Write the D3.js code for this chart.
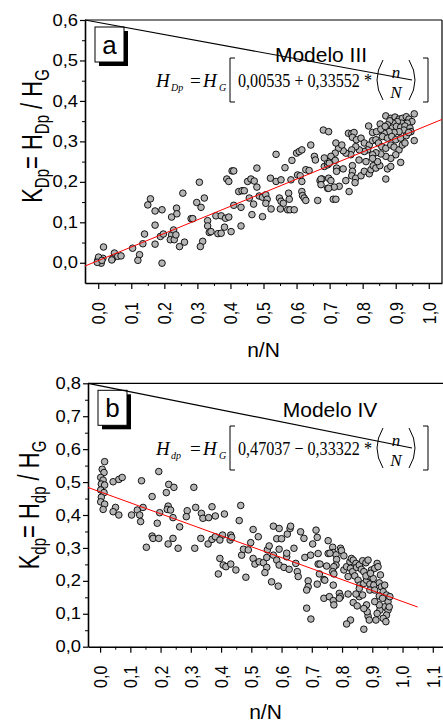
<!DOCTYPE html>
<html>
<head>
<meta charset="utf-8">
<title>Modelo III / IV</title>
<script src="https://cdnjs.cloudflare.com/ajax/libs/d3/7.8.5/d3.min.js"></script>
<style>
body { margin: 0; background: #fff; }
svg text { font-family: "Liberation Sans", Arial, sans-serif; fill: #000; }
svg .eq text { font-family: "Liberation Serif", "Times New Roman", serif; }
.dot { fill: #b4b4b4; stroke: #000; stroke-width: 0.9px; }
.fit { stroke: #ff0000; stroke-width: 1px; fill: none; }
.axis path, .axis line { stroke: #000; }
</style>
</head>
<body>
<script>
// --- panel a : Modelo III (n/N , K_Dp) ---
var pointsA = [
  [-0.001,0.007],[0.004,0.003],[0.009,-0.001],[0.014,0.011],[0.001,0.014],[-0.003,0.001],[0.011,0.006],[0.016,0.039],
  [0.044,0.011],[0.049,0.024],[0.059,0.016],[0.069,0.017],[0.041,0.007],[0.104,0.036],[0.125,0.020],[0.120,0.006],
  [0.135,0.047],[0.140,0.071],[0.172,0.046],[0.193,-0.001],[0.150,0.143],[0.158,0.158],[0.172,0.128],[0.193,0.131],
  [0.172,0.093],[0.188,0.065],[0.197,0.071],[0.222,0.113],[0.237,0.135],[0.238,0.121],[0.222,0.069],[0.228,0.081],
  [0.218,0.057],[0.230,0.057],[0.246,0.040],[0.235,0.069],[0.261,0.051],[0.256,0.172],[0.281,0.109],[0.286,0.109],
  [0.298,0.149],[0.311,0.137],[0.306,0.199],[0.321,0.160],[0.331,0.104],[0.331,0.091],[0.336,0.075],[0.316,0.053],
  [0.309,0.040],
  [0.341,0.077],[0.356,0.116],[0.372,0.116],[0.385,0.110],[0.395,0.113],[0.362,0.072],[0.382,0.088],[0.402,0.077],
  [0.372,0.073],[0.389,0.207],[0.395,0.201],[0.405,0.227],[0.410,0.227],[0.410,0.142],[0.432,0.137],[0.432,0.091],
  [0.425,0.176],[0.435,0.178],[0.442,0.178],[0.452,0.201],[0.462,0.207],[0.472,0.202],[0.457,0.160],[0.480,0.234],
  [0.480,0.187],[0.465,0.119],[0.470,0.145],[0.487,0.165],[0.497,0.162],[0.507,0.168],[0.511,0.157],[0.497,0.114],
  [0.507,0.147],[0.523,0.133],[0.521,0.209],[0.538,0.201],[0.553,0.205],[0.538,0.268],[0.548,0.160],[0.553,0.152],
  [0.560,0.147],[0.551,0.133],[0.565,0.235],[0.576,0.172],[0.578,0.157],[0.573,0.131],[0.580,0.131],[0.593,0.131],
  [0.586,0.253],[0.583,0.205],[0.600,0.271],[0.608,0.275],[0.616,0.279],[0.603,0.217],[0.611,0.215],[0.616,0.201],
  [0.616,0.176],[0.618,0.166],[0.623,0.160],[0.628,0.154],[0.628,0.230],[0.638,0.228],[0.643,0.291],[0.654,0.263],
  [0.657,0.254],[0.664,0.154],[0.671,0.203],[0.677,0.207],[0.684,0.238],[0.694,0.242],[0.697,0.209],[0.694,0.184],
  [0.870,0.363],[0.885,0.357],[0.898,0.360],[0.910,0.355],[0.920,0.357],[0.932,0.361],[0.940,0.355],[0.956,0.368],
  [0.949,0.349],[0.935,0.345],[0.918,0.345],[0.905,0.349],[0.892,0.345],[0.882,0.351],[0.875,0.341],[0.890,0.333],
  [0.902,0.337],[0.915,0.335],[0.928,0.338],[0.943,0.333],[0.925,0.328],[0.910,0.324],[0.895,0.322],[0.880,0.324],
  [0.865,0.320],[0.853,0.343],[0.818,0.338],[0.830,0.322],[0.842,0.324],[0.855,0.330],[0.868,0.337],[0.860,0.312],
  [0.875,0.308],[0.888,0.312],[0.900,0.304],[0.915,0.308],[0.932,0.314],[0.956,0.302],[0.946,0.324],[0.939,0.322],
  [0.757,0.320],[0.767,0.319],[0.774,0.322],[0.769,0.310],[0.781,0.304],[0.795,0.308],[0.805,0.296],[0.820,0.291],
  [0.830,0.302],[0.840,0.304],[0.848,0.296],[0.858,0.287],[0.870,0.283],[0.885,0.291],[0.895,0.286],[0.910,0.279],
  [0.920,0.291],[0.928,0.296],[0.900,0.267],[0.885,0.258],[0.870,0.263],[0.855,0.269],[0.840,0.272],[0.830,0.267],
  [0.815,0.279],[0.805,0.275],[0.790,0.279],[0.779,0.287],[0.767,0.279],[0.764,0.267],[0.749,0.271],[0.741,0.277],
  [0.727,0.283],[0.719,0.296],[0.737,0.291],[0.717,0.271],[0.704,0.263],[0.694,0.250],[0.684,0.259],[0.699,0.246],
  [0.717,0.253],[0.721,0.234],[0.721,0.226],[0.741,0.232],[0.769,0.240],[0.769,0.226],[0.767,0.215],[0.779,0.209],
  [0.777,0.198],[0.795,0.215],[0.805,0.226],[0.820,0.220],[0.825,0.230],[0.832,0.240],[0.840,0.234],[0.852,0.240],
  [0.845,0.250],[0.830,0.258],[0.810,0.250],[0.789,0.254],[0.875,0.232],[0.885,0.238],[0.915,0.248],[0.870,0.207],
  [0.749,0.203],[0.729,0.189],[0.714,0.187],[0.697,0.184],[0.704,0.203],[0.674,0.207],[0.674,0.193],[0.759,0.176],
  [0.711,0.157],[0.719,0.157],[0.681,0.328],[0.697,0.324]
];
var fitA = [0.00535, 0.33552];
var xTicksA = [0, 0.1, 0.2, 0.3, 0.4, 0.5, 0.6, 0.7, 0.8, 0.9, 1.0];
var xLabelsA = ["0,0", "0,1", "0,2", "0,3", "0,4", "0,5", "0,6", "0,7", "0,8", "0,9", "1,0"];
var yTicksA = [0, 0.1, 0.2, 0.3, 0.4, 0.5, 0.6];
var yLabelsA = ["0,0", "0,1", "0,2", "0,3", "0,4", "0,5", "0,6"];

// --- panel b : Modelo IV (n/N , K_dp) ---
var pointsB = [
  [0.015,0.562],[0.007,0.539],[0.013,0.529],[0.002,0.514],[0.010,0.506],[0.004,0.494],[0.015,0.491],[0.002,0.476],
  [0.013,0.468],[0.004,0.454],[0.002,0.440],[0.015,0.433],[0.010,0.417],[0.043,0.501],[0.062,0.508],[0.073,0.514],
  [0.051,0.423],[0.043,0.410],[0.062,0.400],[0.104,0.400],[0.123,0.415],[0.131,0.400],[0.137,0.504],[0.142,0.423],
  [0.134,0.380],[0.172,0.456],[0.194,0.532],[0.219,0.468],[0.227,0.493],[0.244,0.484],[0.225,0.427],[0.222,0.417],
  [0.233,0.415],[0.197,0.407],[0.241,0.392],[0.189,0.375],[0.263,0.364],[0.172,0.336],[0.175,0.329],[0.194,0.329],
  [0.241,0.329],[0.225,0.312],[0.153,0.302],[0.258,0.299],[0.288,0.413],[0.285,0.395],[0.310,0.484],[0.316,0.423],
  [0.335,0.405],[0.340,0.390],[0.359,0.392],[0.370,0.425],[0.381,0.397],[0.333,0.329],[0.357,0.312],[0.370,0.326],
  [0.381,0.334],[0.313,0.299],
  [0.411,0.403],[0.465,0.429],[0.460,0.383],[0.432,0.339],[0.405,0.339],[0.396,0.324],[0.430,0.324],[0.435,0.332],
  [0.396,0.268],[0.407,0.248],[0.416,0.243],[0.391,0.221],[0.432,0.251],[0.449,0.233],[0.468,0.278],[0.474,0.296],
  [0.490,0.294],[0.482,0.211],[0.498,0.316],[0.506,0.356],[0.523,0.334],[0.506,0.268],[0.512,0.251],[0.526,0.258],
  [0.540,0.255],[0.551,0.271],[0.553,0.294],[0.559,0.306],[0.551,0.241],[0.545,0.225],[0.567,0.197],[0.589,0.184],
  [0.573,0.366],[0.592,0.359],[0.584,0.328],[0.600,0.328],[0.592,0.296],[0.573,0.278],[0.584,0.263],[0.592,0.248],
  [0.608,0.241],[0.625,0.235],[0.617,0.273],[0.617,0.284],[0.619,0.342],[0.628,0.359],[0.630,0.366],[0.641,0.299],
  [0.647,0.253],[0.652,0.228],[0.655,0.213],[0.663,0.349],[0.674,0.329],[0.677,0.271],[0.696,0.278],[0.703,0.312],
  [0.714,0.354],[0.718,0.332],[0.721,0.283],[0.721,0.251],[0.727,0.251],[0.725,0.221],[0.740,0.204],[0.718,0.190],
  [0.688,0.200],[0.749,0.245],[0.754,0.322],[0.754,0.283],[0.688,0.182],[0.683,0.117],[0.697,0.084],[0.683,0.172],
  [0.769,0.302],[0.771,0.286],[0.780,0.279],[0.760,0.284],[0.782,0.265],[0.780,0.248],[0.795,0.299],[0.798,0.292],
  [0.806,0.276],[0.773,0.243],[0.769,0.228],[0.773,0.221],[0.743,0.202],[0.771,0.187],[0.740,0.147],[0.758,0.152],
  [0.771,0.140],[0.773,0.127],[0.791,0.162],[0.795,0.152],[0.806,0.233],[0.815,0.243],[0.820,0.213],[0.826,0.258],
  [0.831,0.268],[0.837,0.263],[0.846,0.253],[0.828,0.238],[0.835,0.228],[0.842,0.215],[0.848,0.241],[0.857,0.248],
  [0.864,0.235],[0.868,0.261],[0.879,0.255],[0.886,0.263],[0.897,0.233],[0.908,0.238],[0.916,0.253],[0.919,0.243],
  [0.927,0.218],[0.853,0.202],[0.859,0.187],[0.872,0.192],[0.881,0.202],[0.890,0.213],[0.903,0.207],[0.892,0.190],
  [0.905,0.187],[0.923,0.194],[0.930,0.182],[0.941,0.187],[0.936,0.167],[0.947,0.157],[0.952,0.137],[0.941,0.121],
  [0.952,0.111],[0.947,0.096],[0.936,0.086],[0.925,0.111],[0.916,0.101],[0.923,0.127],[0.908,0.137],[0.912,0.081],
  [0.945,0.076],[0.886,0.093],[0.883,0.106],[0.890,0.081],[0.881,0.127],[0.872,0.116],[0.857,0.152],[0.846,0.160],
  [0.837,0.134],[0.850,0.124],[0.868,0.157],[0.892,0.172],[0.908,0.172],[0.923,0.154],[0.934,0.147],[0.828,0.081],
  [0.815,0.069],[0.872,0.053],[0.956,0.121],[0.958,0.152],[0.791,0.147],[0.820,0.160],[0.872,0.228],[0.879,0.215],
  [0.894,0.223],[0.857,0.177]
];
var fitB = [0.47037, -0.33322];
var xTicksB = [0, 0.1, 0.2, 0.3, 0.4, 0.5, 0.6, 0.7, 0.8, 0.9, 1.0, 1.1];
var xLabelsB = ["0,0", "0,1", "0,2", "0,3", "0,4", "0,5", "0,6", "0,7", "0,8", "0,9", "1,0", "1,1"];
var yTicksB = [0, 0.1, 0.2, 0.3, 0.4, 0.5, 0.6, 0.7, 0.8];
var yLabelsB = ["0,0", "0,1", "0,2", "0,3", "0,4", "0,5", "0,6", "0,7", "0,8"];

var width = 443, height = 722;

var svg = d3.select("body").append("svg")
  .attr("width", width)
  .attr("height", height);

drawPanel({
  left: 85, right: 442, top: 20, bottom: 283, rightBorder: true,
  xDomain: [-0.04, 1.04], yDomain: [-0.05, 0.6],
  points: pointsA, fit: fitA, fitX: [-0.04, 1.04],
  xTicks: xTicksA, xLabels: xLabelsA, yTicks: yTicksA, yLabels: yLabelsA,
  letter: "a", model: "Modelo  III", modelX: 321, sub: "Dp", sign: "+",
  c0: "0,00535", c1: "0,33552", eqBase: 87, modelBase: 62,
  yLabelX: 42, yLabelCy: 136, yLabelSub: "Dp", xLabelY: 357
});

drawPanel({
  left: 88, right: 460, top: 383.3, bottom: 646.7, rightBorder: false,
  xDomain: [-0.04, 1.19], yDomain: [0, 0.8],
  points: pointsB, fit: fitB, fitX: [-0.04, 1.05],
  xTicks: xTicksB, xLabels: xLabelsB, yTicks: yTicksB, yLabels: yLabelsB,
  letter: "b", model: "Modelo  IV", modelX: 330, sub: "dp", sign: "\u2212",
  c0: "0,47037", c1: "0,33322", eqBase: 455, modelBase: 417,
  yLabelX: 39, yLabelCy: 505, yLabelSub: "dp", xLabelY: 719
});

function drawPanel(p) {
  var x = d3.scaleLinear().domain(p.xDomain).range([p.left, p.right]);
  var y = d3.scaleLinear().domain(p.yDomain).range([p.bottom, p.top]);
  var g = svg.append("g");

  // minor ticks (every 0.05)
  var xMinor = p.xTicks.map(function(t) { return t + 0.05; })
    .filter(function(t) { return t < p.xDomain[1]; });
  var yMinor = p.yTicks.map(function(t) { return t - 0.05; })
    .filter(function(t) { return t > p.yDomain[0]; });

  g.append("g").attr("class", "axis")
    .attr("transform", "translate(0," + p.bottom + ")")
    .call(d3.axisBottom(x).tickValues(xMinor).tickSize(3).tickFormat("").tickSizeOuter(0))
    .select(".domain").remove();
  g.append("g").attr("class", "axis")
    .attr("transform", "translate(" + p.left + ",0)")
    .call(d3.axisLeft(y).tickValues(yMinor).tickSize(3).tickFormat("").tickSizeOuter(0))
    .select(".domain").remove();

  var xAxis = g.append("g").attr("class", "axis")
    .attr("transform", "translate(0," + p.bottom + ")")
    .call(d3.axisBottom(x).tickValues(p.xTicks).tickSize(6).tickSizeOuter(0)
      .tickFormat(function(d, i) { return p.xLabels[i]; }));
  xAxis.select(".domain").attr("stroke-width", 1.6);
  xAxis.selectAll("line").attr("stroke-width", 1.2);
  xAxis.selectAll("text")
    .attr("font-size", 16)
    .attr("text-anchor", "end")
    .attr("transform", "translate(0,19) rotate(-90) scale(1,1.15)")
    .attr("x", 0).attr("y", 0).attr("dy", "0.35em")
    .style("font-family", "'Liberation Sans', Arial, sans-serif");

  var yAxis = g.append("g").attr("class", "axis")
    .attr("transform", "translate(" + p.left + ",0)")
    .call(d3.axisLeft(y).tickValues(p.yTicks).tickSize(5).tickSizeOuter(0)
      .tickFormat(function(d, i) { return p.yLabels[i]; }));
  yAxis.select(".domain").attr("stroke-width", 1.6);
  yAxis.selectAll("line").attr("stroke-width", 1.2);
  yAxis.selectAll("text")
    .attr("font-size", 16)
    .attr("x", 0)
    .attr("transform", "translate(-7,0) scale(1.15,1)")
    .style("font-family", "'Liberation Sans', Arial, sans-serif");

  // top / right frame
  g.append("line").attr("x1", p.left).attr("x2", p.right)
    .attr("y1", p.top).attr("y2", p.top)
    .attr("stroke", "#000").attr("stroke-width", 1.2);
  if (p.rightBorder) {
    g.append("line").attr("x1", p.right).attr("x2", p.right)
      .attr("y1", p.top).attr("y2", p.bottom)
      .attr("stroke", "#000").attr("stroke-width", 1.2);
  }

  // points
  g.append("g").selectAll("circle")
    .data(p.points)
    .enter().append("circle")
    .attr("class", "dot")
    .attr("cx", function(d) { return x(d[0]); })
    .attr("cy", function(d) { return y(d[1]); })
    .attr("r", 3.3);

  // fitted line
  var fitLine = d3.line()
    .x(function(d) { return x(d); })
    .y(function(d) { return y(p.fit[0] + p.fit[1] * d); });
  g.append("path").attr("class", "fit").attr("d", fitLine(p.fitX));

  // letter box with shadow
  var bx = p.left + 10, by = p.top + 7;
  g.append("rect").attr("x", bx + 4).attr("y", by + 4).attr("width", 29).attr("height", 35).attr("fill", "#000");
  g.append("rect").attr("x", bx).attr("y", by).attr("width", 29).attr("height", 35)
    .attr("fill", "#fff").attr("stroke", "#000").attr("stroke-width", 1);
  g.append("text").attr("x", bx + 14.5).attr("y", by + 27)
    .attr("text-anchor", "middle").attr("font-size", 26).text(p.letter);

  // model name
  g.append("text").attr("x", p.modelX).attr("y", p.modelBase)
    .attr("text-anchor", "middle").attr("font-size", 21).text(p.model);

  // equation
  var eq = g.append("g").attr("class", "eq");
  var b = p.eqBase;
  eq.append("text").attr("x", 156).attr("y", b).attr("font-size", 19)
    .attr("font-style", "italic").text("H");
  eq.append("text").attr("x", 171).attr("y", b + 4).attr("font-size", 10)
    .attr("font-style", "italic").text(p.sub);
  eq.append("text").attr("x", 190).attr("y", b).attr("font-size", 19).text("=");
  eq.append("text").attr("x", 203).attr("y", b).attr("font-size", 19)
    .attr("font-style", "italic").text("H");
  eq.append("text").attr("x", 219).attr("y", b + 4).attr("font-size", 10)
    .attr("font-style", "italic").text("G");
  eq.append("text").attr("x", 238).attr("y", b).attr("font-size", 19)
    .attr("textLength", 134).attr("lengthAdjust", "spacingAndGlyphs")
    .text(p.c0 + " " + p.sign + " " + p.c1 + " *");
  eq.append("text").attr("x", 396).attr("y", b - 9).attr("font-size", 17)
    .attr("text-anchor", "middle").attr("font-style", "italic").text("n");
  eq.append("text").attr("x", 396).attr("y", b + 11).attr("font-size", 17)
    .attr("text-anchor", "middle").attr("font-style", "italic").text("N");
  var br = eq.append("g").attr("fill", "none").attr("stroke", "#000").attr("stroke-width", 1);
  br.append("path").attr("d", "M235," + (b - 29) + "H230V" + (b + 15) + "H235");
  br.append("path").attr("d", "M423," + (b - 29) + "H428V" + (b + 15) + "H423");
  br.append("path").attr("d", "M383," + (b - 27) + "Q371," + (b - 7) + " 383," + (b + 13));
  br.append("path").attr("d", "M409," + (b - 27) + "Q421," + (b - 7) + " 409," + (b + 13));
  // fraction bar (drawn from the frame corner, as in the original)
  g.append("line").attr("x1", p.left).attr("y1", p.top)
    .attr("x2", 412).attr("y2", b - 7)
    .attr("stroke", "#000").attr("stroke-width", 1.2);

  // y axis title
  var yl = g.append("text")
    .attr("transform", "translate(" + p.yLabelX + "," + p.yLabelCy + ") rotate(-90) scale(1,1.35)")
    .attr("text-anchor", "middle").attr("font-size", 22);
  yl.append("tspan").text("K");
  yl.append("tspan").attr("font-size", 15).attr("dy", 5).text(p.yLabelSub);
  yl.append("tspan").attr("dy", -5).text("= H");
  yl.append("tspan").attr("font-size", 15).attr("dy", 5).text(p.yLabelSub);
  yl.append("tspan").attr("dy", -5).text(" / H");
  yl.append("tspan").attr("font-size", 15).attr("dy", 5).text("G");

  // x axis title
  g.append("text").attr("x", (p.left + Math.min(p.right, width)) / 2).attr("y", p.xLabelY)
    .attr("text-anchor", "middle").attr("font-size", 21).text("n/N");
}
</script>
</body>
</html>
